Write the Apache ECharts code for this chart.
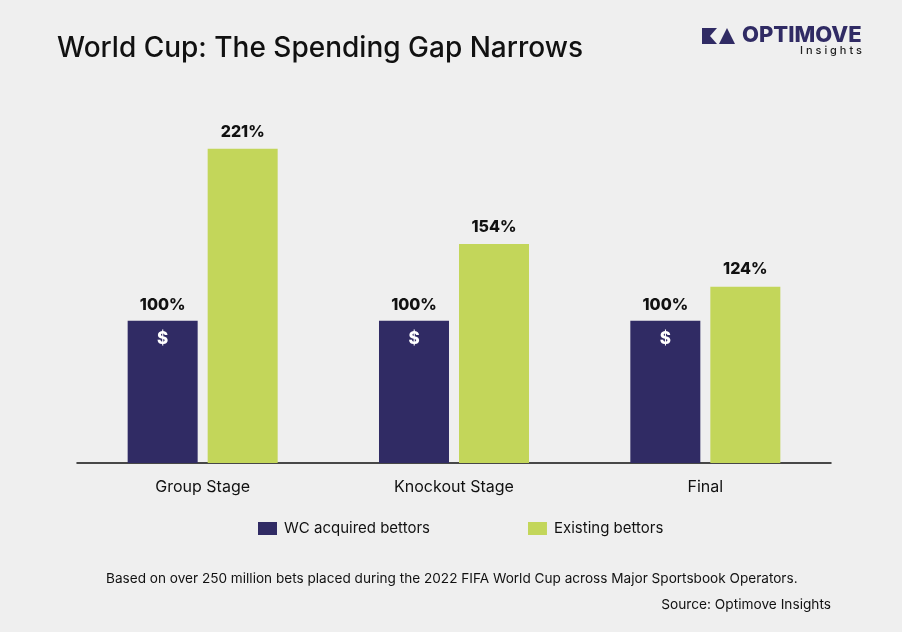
<!DOCTYPE html>
<html><head><meta charset="utf-8">
<script src="https://cdn.jsdelivr.net/npm/echarts@6/dist/echarts.min.js"></script>
<style>html,body{margin:0;padding:0;background:#efefef;}#c{width:902px;height:632px;}</style>
</head><body><div id="c"></div>
<script>
const categories = ['Group Stage', 'Knockout Stage', 'Final'];
const wcAcquired = [100, 100, 100];
const existing = [221, 154, 124];
const seriesNames = ['WC acquired bettors', 'Existing bettors'];

const FONT = 'Inter';
const BLUE = '#302b64';
const GREEN = '#c3d65a';
const chart = echarts.init(document.getElementById('c'));
chart.setOption({
  backgroundColor: '#efefef',
  textStyle: { fontFamily: FONT },
  title: {
    text: 'World Cup: The Spending Gap Narrows',
    left: 52, top: 30,
    textStyle: { fontFamily: FONT, fontSize: 28, fontWeight: 500, color: '#111' }
  },
  graphic: [
    { type: 'polygon', shape: { points: [[702,28],[717,28],[710,36],[717,44],[702,44]] }, style: { fill: BLUE } },
    { type: 'polygon', shape: { points: [[719,44],[727,28],[735,44]] }, style: { fill: BLUE } },
    { type: 'text', left: 742, top: 24, style: { text: 'OPTIMOVE', font: '800 22px ' + FONT, fill: BLUE } },
    { type: 'text', right: 40, top: 45, style: { text: 'I n s i g h t s', font: '500 11px ' + FONT, fill: '#222' } },
    { type: 'text', left: 106, top: 572, style: { text: 'Based on over 250 million bets placed during the 2022 FIFA World Cup across Major Sportsbook Operators.', font: '13.6px ' + FONT, fill: '#111' } },
    { type: 'text', right: 71, top: 598, style: { text: 'Source: Optimove Insights', font: '13.7px ' + FONT, fill: '#111', align: 'right' } }
  ],
  legend: {
    data: seriesNames,
    left: 258, top: 521, padding: 0,
    itemWidth: 19, itemHeight: 13, itemGap: 98,
    icon: 'rect',
    textStyle: { fontFamily: FONT, fontSize: 15, color: '#111', padding: [0,0,0,2] }
  },
  grid: { left: 77, right: 71, top: 107.5, bottom: 169 },
  xAxis: {
    type: 'category', data: categories,
    axisLine: { lineStyle: { color: '#111', width: 1.5 } },
    axisTick: { show: false },
    axisLabel: { fontFamily: FONT, fontSize: 16, color: '#111', margin: 16 }
  },
  yAxis: { type: 'value', min: 0, max: 250, show: false, splitLine: { show: false } },
  series: [
    {
      name: seriesNames[0], type: 'bar', data: wcAcquired,
      barWidth: 70, barGap: '14.3%',
      itemStyle: { color: BLUE },
      label: {
        show: true, position: 'insideTop', distance: 0, offset: [0, -33],
        formatter: p => '{p|' + p.value + '%}\n{d|$}',
        rich: {
          p: { fontFamily: FONT, fontSize: 16, fontWeight: 800, color: '#111', lineHeight: 34 },
          d: { fontFamily: FONT, fontSize: 17, fontWeight: 800, color: '#fff', lineHeight: 34 }
        }
      }
    },
    {
      name: seriesNames[1], type: 'bar', data: existing,
      barWidth: 70,
      itemStyle: { color: GREEN },
      label: {
        show: true, position: 'top', distance: 8,
        formatter: p => p.value + '%',
        fontFamily: FONT, fontSize: 16, fontWeight: 800, color: '#111', lineHeight: 18
      }
    }
  ]
});
</script></body></html>
